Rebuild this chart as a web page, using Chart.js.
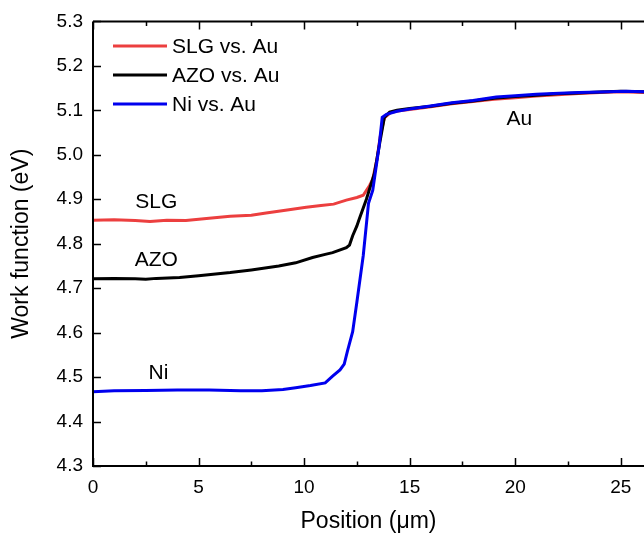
<!DOCTYPE html>
<html>
<head>
<meta charset="utf-8">
<script src="https://cdn.jsdelivr.net/npm/chart.js@4.4.1/dist/chart.umd.min.js"></script>
<style>
  html, body { margin: 0; padding: 0; background: #fff; overflow: hidden; }
  #wrap { width: 644px; height: 538px; }
</style>
</head>
<body>
<div id="wrap"><canvas id="wfChart" width="644" height="538"></canvas></div>
<script>
// work function line scans
const slgX = [0, 1, 2, 2.7, 3.5, 4.4, 5.5, 6.5, 7.5, 8.2, 9.2, 10.1, 10.8, 11.4, 12.0, 12.5, 12.8, 13.1, 13.25, 13.45, 13.6, 13.8, 14.1, 14.5, 15.0, 16.0, 17, 18, 19, 20, 21, 22, 23, 24, 25, 26.1];
const slgY = [4.853, 4.854, 4.852, 4.850, 4.853, 4.852, 4.857, 4.862, 4.864, 4.869, 4.876, 4.882, 4.886, 4.889, 4.898, 4.904, 4.909, 4.931, 4.945, 4.990, 5.040, 5.083, 5.095, 5.099, 5.102, 5.108, 5.115, 5.120, 5.125, 5.128, 5.132, 5.135, 5.138, 5.140, 5.142, 5.140];

const azoX = [0, 1, 2, 2.5, 3, 4.1, 5, 6.5, 7.5, 8.8, 9.6, 10.4, 11.0, 11.35, 12.0, 12.15, 12.3, 12.5, 12.6, 12.95, 13.33, 13.55, 13.8, 14.05, 14.4, 15, 16, 17, 18, 19, 20, 21, 22, 23, 24, 25, 26.1];
const azoY = [4.721, 4.722, 4.721, 4.720, 4.722, 4.724, 4.728, 4.735, 4.741, 4.750, 4.757, 4.769, 4.776, 4.780, 4.791, 4.797, 4.818, 4.840, 4.854, 4.900, 4.958, 5.018, 5.084, 5.096, 5.100, 5.104, 5.109, 5.116, 5.121, 5.127, 5.131, 5.134, 5.137, 5.139, 5.141, 5.143, 5.142];

const niX = [0, 1, 2.5, 4, 5.5, 7, 8.0, 9.0, 9.6, 10.3, 11.0, 11.35, 11.7, 11.9, 12.05, 12.3, 12.5, 12.8, 13.05, 13.25, 13.55, 13.7, 13.9, 14.4, 15.0, 15.9, 17, 18, 19.1, 20, 21, 21.8, 23, 24, 25.25, 26.1];
const niY = [4.467, 4.469, 4.470, 4.471, 4.471, 4.469, 4.469, 4.472, 4.476, 4.481, 4.487, 4.502, 4.516, 4.529, 4.558, 4.602, 4.669, 4.773, 4.891, 4.920, 5.018, 5.084, 5.091, 5.098, 5.103, 5.109, 5.117, 5.122, 5.130, 5.133, 5.136, 5.138, 5.140, 5.141, 5.143, 5.142];

const seriesNames = ["SLG vs. Au", "AZO vs. Au", "Ni vs. Au"];
const seriesColors = ["#ec3f3f", "#000000", "#0000ee"];

// axis ticks
const xTicks = [0, 5, 10, 15, 20, 25];
const xMinorTicks = [2.5, 7.5, 12.5, 17.5, 22.5];
const yTicks = [4.3, 4.4, 4.5, 4.6, 4.7, 4.8, 4.9, 5.0, 5.1, 5.2, 5.3];

// text labels placed in data coordinates
const notes = [
  { text: "SLG", x: 3.0, y: 4.893 },
  { text: "AZO", x: 3.0, y: 4.764 },
  { text: "Ni", x: 3.1, y: 4.509 },
  { text: "Au", x: 20.2, y: 5.08 }
];

const FONT = "'Liberation Sans', Arial, sans-serif";
Chart.defaults.font.family = FONT;
Chart.defaults.color = "#000";

function toPoints(xs, ys) {
  return xs.map((x, i) => ({ x: x, y: ys[i] }));
}

// frame, inward ticks, legend and notes
const decorPlugin = {
  id: "decor",
  afterDatasetsDraw(chart) {
    const ctx = chart.ctx;
    const a = chart.chartArea;
    const xs = chart.scales.x;
    const ys = chart.scales.y;
    ctx.save();
    ctx.strokeStyle = "#000";
    ctx.lineWidth = 2;
    ctx.beginPath();
    ctx.moveTo(a.left, a.top);
    ctx.lineTo(chart.width, a.top);
    ctx.moveTo(a.left, a.top);
    ctx.lineTo(a.left, a.bottom);
    ctx.lineTo(chart.width, a.bottom);
    ctx.stroke();

    ctx.lineWidth = 1.5;
    ctx.beginPath();
    xTicks.forEach(v => {
      const px = Math.round(xs.getPixelForValue(v)) + 0.5;
      ctx.moveTo(px, a.bottom); ctx.lineTo(px, a.bottom - 8);
      ctx.moveTo(px, a.top); ctx.lineTo(px, a.top + 8);
    });
    xMinorTicks.forEach(v => {
      const px = Math.round(xs.getPixelForValue(v)) + 0.5;
      ctx.moveTo(px, a.bottom); ctx.lineTo(px, a.bottom - 4.5);
      ctx.moveTo(px, a.top); ctx.lineTo(px, a.top + 4.5);
    });
    yTicks.forEach(v => {
      const py = Math.round(ys.getPixelForValue(v)) + 0.5;
      ctx.moveTo(a.left, py); ctx.lineTo(a.left + 8, py);
    });
    ctx.stroke();

    // legend
    ctx.font = "21px " + FONT;
    ctx.textBaseline = "middle";
    ctx.textAlign = "left";
    chart.data.datasets.slice().sort((p, q) => p.legendIndex - q.legendIndex).forEach((ds, i) => {
      const yy = 46 + i * 29;
      ctx.strokeStyle = ds.borderColor;
      ctx.lineWidth = 3;
      ctx.beginPath();
      ctx.moveTo(113, yy);
      ctx.lineTo(167, yy);
      ctx.stroke();
      ctx.fillStyle = "#000";
      ctx.fillText(ds.label, 172, yy + 1);
    });

    // notes
    ctx.textAlign = "center";
    notes.forEach(n => {
      ctx.fillText(n.text, xs.getPixelForValue(n.x), ys.getPixelForValue(n.y));
    });
    ctx.restore();
  }
};

new Chart(document.getElementById("wfChart"), {
  type: "line",
  data: {
    datasets: [
      { label: seriesNames[0], legendIndex: 0, data: toPoints(slgX, slgY), borderColor: seriesColors[0], order: 3 },
      { label: seriesNames[1], legendIndex: 1, data: toPoints(azoX, azoY), borderColor: seriesColors[1], order: 2 },
      { label: seriesNames[2], legendIndex: 2, data: toPoints(niX, niY), borderColor: seriesColors[2], order: 1 }
    ]
  },
  options: {
    responsive: false,
    animation: false,
    devicePixelRatio: 1,
    layout: { padding: { top: 16, right: 0, left: 0, bottom: 0 } },
    elements: {
      line: { borderWidth: 3, tension: 0, fill: false },
      point: { radius: 0 }
    },
    plugins: {
      legend: { display: false },
      tooltip: { enabled: false }
    },
    scales: {
      x: {
        type: "linear",
        min: 0,
        max: 26.1,
        grid: { display: false, drawTicks: false },
        border: { display: false },
        afterBuildTicks: s => { s.ticks = xTicks.map(v => ({ value: v })); },
        afterFit: s => { s.height = 72; },
        ticks: { font: { size: 19 }, padding: 10, maxRotation: 0 },
        title: { display: true, text: "Position (\u03bcm)", font: { size: 23 }, padding: { top: 0, bottom: 3 } }
      },
      y: {
        min: 4.3,
        max: 5.3,
        grid: { display: false, drawTicks: false },
        border: { display: false },
        afterBuildTicks: s => { s.ticks = yTicks.map(v => ({ value: v })); },
        afterFit: s => { s.width = 93; },
        ticks: { font: { size: 19 }, padding: 10, callback: v => Number(v).toFixed(1) },
        title: { display: true, text: "Work function (eV)", font: { size: 23 }, padding: { top: 8, bottom: 0 } }
      }
    }
  },
  plugins: [decorPlugin]
});
</script>
</body>
</html>
